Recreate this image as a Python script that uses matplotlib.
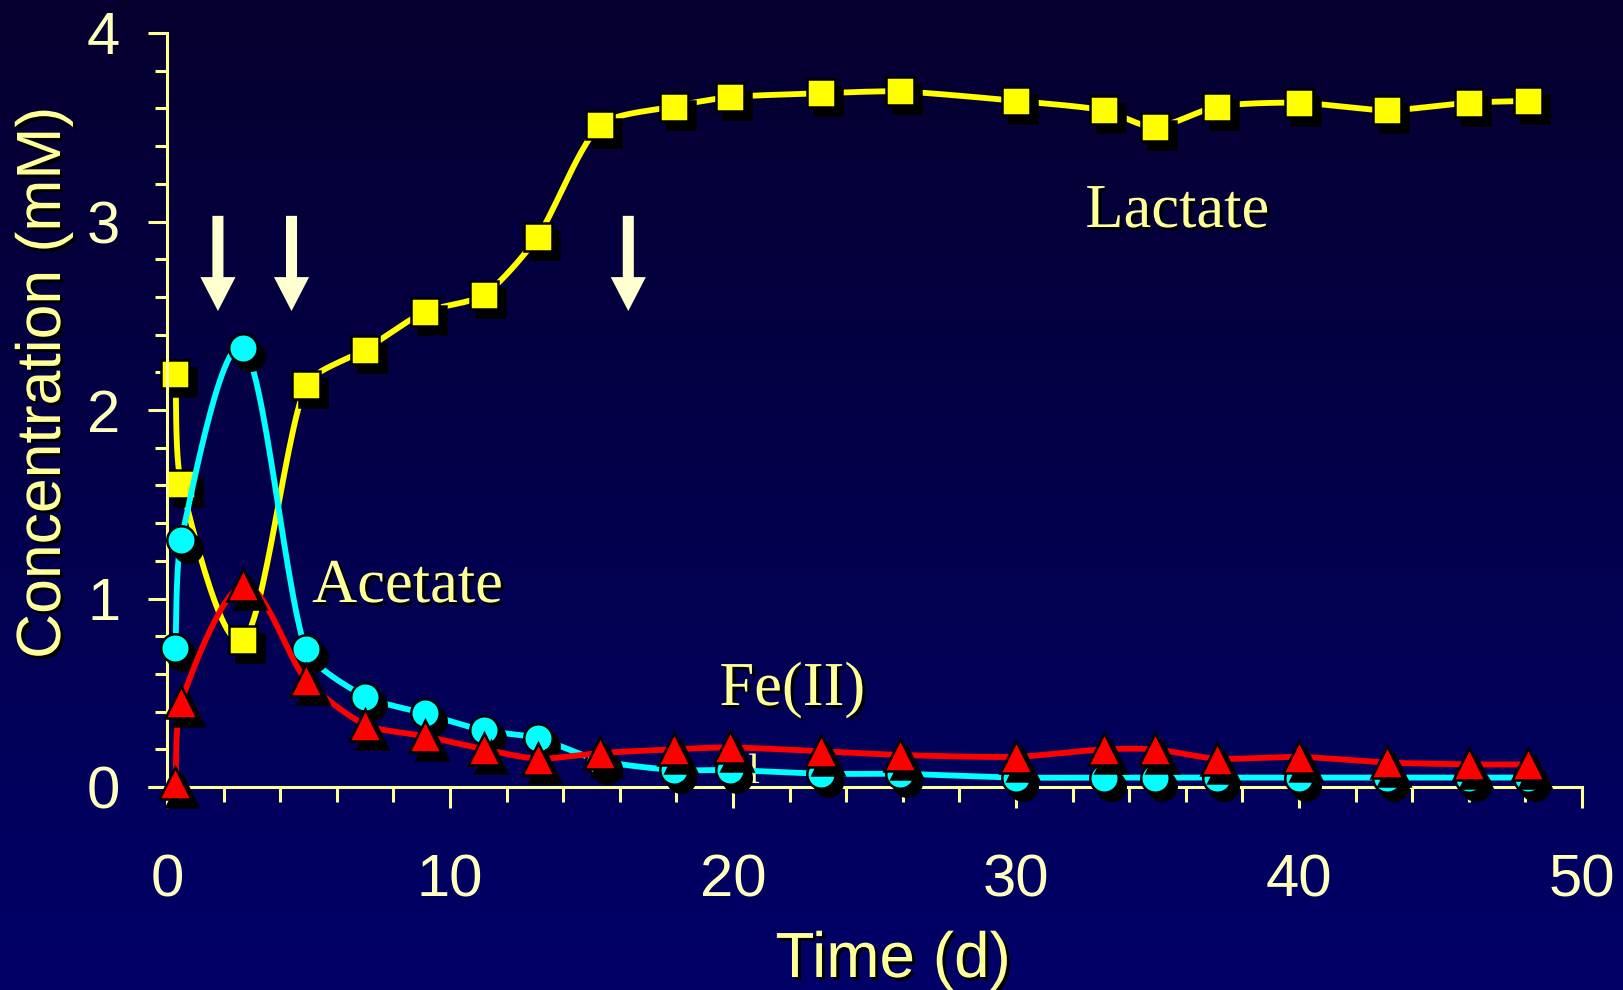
import numpy as np
import matplotlib
matplotlib.use("Agg")
import matplotlib.pyplot as plt
import matplotlib.patheffects as pe
from matplotlib import font_manager as fm
from matplotlib.transforms import Affine2D
from matplotlib.patches import FancyArrow
from matplotlib.ticker import MultipleLocator

# ---- data -------------------------------------------------------------
time_d = [0.3, 0.5, 2.7, 4.9, 7.0, 9.1, 11.2, 13.1, 15.3, 17.9, 19.9,
          23.1, 25.9, 30.0, 33.1, 34.9, 37.1, 40.0, 43.1, 46.0, 48.1]
lactate = [2.19, 1.61, 0.78, 2.13, 2.32, 2.52, 2.61, 2.92, 3.51, 3.61, 3.66,
           3.68, 3.69, 3.64, 3.59, 3.50, 3.61, 3.63, 3.59, 3.63, 3.64]
acetate = [0.74, 1.31, 2.33, 0.73, 0.48, 0.39, 0.30, 0.26, 0.14, 0.09, 0.09,
           0.07, 0.07, 0.05, 0.05, 0.05, 0.05, 0.05, 0.05, 0.05, 0.05]
fe2 = [0.02, 0.45, 1.07, 0.57, 0.33, 0.27, 0.20, 0.15, 0.18, 0.20, 0.21,
       0.19, 0.17, 0.16, 0.20, 0.20, 0.15, 0.16, 0.13, 0.12, 0.12]
arrow_days = [1.8, 4.4, 16.3]

# ---- fonts / colours -----------------------------------------------------
names = {f.name for f in fm.fontManager.ttflist}
NARROW = "Liberation Sans Narrow" if "Liberation Sans Narrow" in names else "Liberation Sans"
SANS = "Liberation Sans"
SERIF = "Liberation Serif"
AXIS_COL = "#FFFF99"
TICK_COL = "#FFFFC0"
ARROW_COL = "#FFFFD0"

W, H, DPI = 1624, 990, 100
fig = plt.figure(figsize=(W / DPI, H / DPI), dpi=DPI)

# background: vertical navy gradient
bg = fig.add_axes([0, 0, 1, 1], zorder=-10)
top = np.array([6, 0, 46]) / 255.0
bot = np.array([0, 0, 104]) / 255.0
g = np.linspace(0, 1, 256)[:, None]
grad = top[None, :] * (1 - g) + bot[None, :] * g
bg.imshow(grad[:, None, :], aspect="auto", extent=[0, 1, 0, 1])
bg.set_axis_off()

left, right = 167 / W, 1582 / W
bottom, topf = 1 - 787 / H, 1 - 33 / H
ax = fig.add_axes([left, bottom, right - left, topf - bottom])
ax.patch.set_alpha(0)
ax.set_xlim(0, 50)
ax.set_ylim(0, 4)

# pixel size of one data unit on each axis (used for shape of the smoothing)
SX = (right - left) * W / 50.0
SY = (topf - bottom) * H / 4.0


def smooth(xs, ys, n=30, k=0.7):
    """Catmull-Rom style Bezier smoothing, with the handles clamped so a
    short segment next to a steep one does not bulge."""
    P = np.column_stack([np.asarray(xs) * SX, np.asarray(ys) * SY]).astype(float)
    m = len(P)
    T = np.array([(P[min(i + 1, m - 1)] - P[max(i - 1, 0)]) / 6.0 for i in range(m)])
    t = np.linspace(0, 1, n)[:, None]
    out = []
    for i in range(m - 1):
        p1, p2 = P[i], P[i + 1]
        lim = np.hypot(*(p2 - p1)) / 3.0 * k
        a, b = T[i], T[i + 1]
        na, nb = np.hypot(*a), np.hypot(*b)
        if na > lim:
            a = a * lim / na
        if nb > lim:
            b = b * lim / nb
        c1, c2 = p1 + a, p2 - b
        seg = (1 - t) ** 3 * p1 + 3 * (1 - t) ** 2 * t * c1 + 3 * (1 - t) * t ** 2 * c2 + t ** 3 * p2
        out.append(seg if i == 0 else seg[1:])
    C = np.vstack(out)
    return C[:, 0] / SX, C[:, 1] / SY


shadow_tr = ax.transData + Affine2D().translate(7, -8)

series = [
    (lactate, "#FFFF00", "s", 20.5),
    (acetate, "#00FFFF", "o", 20.5),
    (fe2, "#FF0000", "^", 23),
]
for k, (vals, col, mk, ms) in enumerate(series):
    z = 2 + k
    cx, cy = smooth(time_d, vals)
    ax.plot(cx, cy, color=col, lw=4.2, zorder=z,
            solid_capstyle="round", clip_on=False)
    ax.plot(time_d, vals, ls="none", marker=mk, ms=ms, mfc="black", mec="black",
            mew=1.8, transform=shadow_tr, zorder=z + 0.1, clip_on=False)
    ax.plot(time_d, vals, ls="none", marker=mk, ms=ms, mfc=col, mec="black",
            mew=1.8, zorder=z + 0.2, clip_on=False)

# arrows marking additions
for d in arrow_days:
    ax.add_patch(FancyArrow(d, 3.03, 0, -0.505, width=0.39, head_width=1.24,
                            head_length=0.18, length_includes_head=True,
                            color=ARROW_COL, lw=0, zorder=6))

# axes styling
for s in ("top", "right"):
    ax.spines[s].set_visible(False)
for s in ("left", "bottom"):
    ax.spines[s].set_color(AXIS_COL)
    ax.spines[s].set_linewidth(2.2)
ax.plot([-19 / 1415, 0], [0, 0], transform=ax.transAxes, color=AXIS_COL,
        lw=2.2, clip_on=False, solid_capstyle="butt")

ax.xaxis.set_major_locator(MultipleLocator(10))
ax.xaxis.set_minor_locator(MultipleLocator(2))
ax.yaxis.set_major_locator(MultipleLocator(1))
ax.yaxis.set_minor_locator(MultipleLocator(0.2))
ax.tick_params(axis="x", which="major", direction="out", length=15, width=2.2,
               color=AXIS_COL, pad=33, labelsize=43, labelcolor=TICK_COL)
ax.tick_params(axis="x", which="minor", direction="out", length=10.5, width=2.2,
               color=AXIS_COL)
ax.tick_params(axis="y", which="major", direction="out", length=13.7, width=2.2,
               color=AXIS_COL, pad=20, labelsize=43, labelcolor=TICK_COL)
ax.tick_params(axis="y", which="minor", direction="out", length=8.6, width=2.2,
               color=AXIS_COL)
for lab in ax.get_xticklabels() + ax.get_yticklabels():
    lab.set_family(NARROW)

txt_shadow = [pe.withSimplePatchShadow(offset=(2.2, -2.2), shadow_rgbFace="black", alpha=1.0)]

fig.text(43.5 / W, 1 - 383 / H, "Concentration (mM)", rotation=90, ha="center",
         va="center", fontsize=45, family=SANS, color=AXIS_COL, path_effects=txt_shadow)
fig.text(893 / W, 1 - 977 / H, "Time (d)", ha="center", va="baseline",
         fontsize=46, family=SANS, color=AXIS_COL, path_effects=txt_shadow)

lab_kw = dict(fontsize=45, family=SERIF, color=AXIS_COL, ha="center",
              va="baseline", path_effects=txt_shadow, zorder=7)
ax.text(35.7, (787 - 227) / 188.5, "Lactate", **lab_kw)
ax.text(8.5, (787 - 602) / 188.5, "Acetate", **lab_kw)
ax.text(22.1, (787 - 705) / 188.5, "Fe(II)", **lab_kw)
ax.text(20.7, (787 - 783) / 188.5, "l", fontsize=31, family=SERIF, color=AXIS_COL,
        ha="center", va="baseline", zorder=1.5)

fig.savefig("out.png", dpi=DPI)
